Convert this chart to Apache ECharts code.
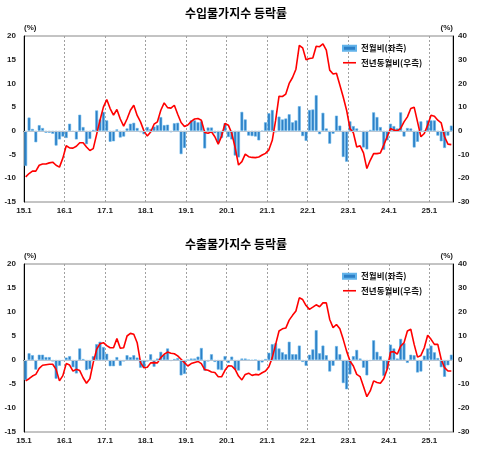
<!DOCTYPE html>
<html>
<head>
<meta charset="utf-8">
<script src="https://cdn.jsdelivr.net/npm/echarts@6.0.0/dist/echarts.min.js"></script>
<style>
html,body{margin:0;padding:0;background:#fff;}
#chart{width:479px;height:453px;}
</style>
</head>
<body>
<div id="chart"></div>
<script>
// ---- data ----
var startYear = 15, endYear = 25, lastMonth = 7;
var categories = [];
for (var y = startYear; y <= endYear; y++) {
  for (var m = 1; m <= 12; m++) {
    if (y === endYear && m > lastMonth) break;
    categories.push(y + '.' + m);
  }
}
var titles = ['수입물가지수 등락률', '수출물가지수 등락률'];
var seriesNames = ['전월비(좌측)', '전년동월비(우측)'];
var leftTicks = {min: -15, max: 20, interval: 5};
var rightTicks = {min: -30, max: 40, interval: 10};

// import price index: month-on-month (left axis)
var importMoM = [
  -7.4, 2.8, 0.4, -2.4, 1.2, 0.6, -0.4, -0.4, -0.6, -3.1, -1.8, -1.2,
  -1.5, 1.5, -0.2, -1.8, 3.4, 0.8, -2.8, -1.7, 0.2, 4.3, 2.4, 4.0,
  2.2, -2.3, -2.2, 0.3, -1.4, -1.2, 0.5, 1.5, 1.7, 0.6, -0.3, -0.7,
  0.8, 0.4, 0.9, 1.2, 2.9, 1.2, 1.3, -0.3, 1.6, 1.7, -4.9, -3.6,
  -0.2, 2.2, 2.2, 1.8, 2.0, -3.7, 0.7, 0.7, -0.5, -2.5, -1.5, 1.6,
  -1.3, -1.8, -5.2, -5.6, 4.0, 2.4, -1.0, -1.1, -1.2, -2.0, -0.1, 1.8,
  3.7, 4.4, -0.3, 3.0, 2.4, 2.6, 3.5, 1.8, 2.2, 5.2, -1.1, -2.1,
  4.4, 4.5, 7.5, -0.7, 3.8, 0.5, -2.7, -0.6, 3.2, 1.1, -5.5, -6.5,
  2.0, 1.0, 0.5, -0.2, -3.5, -3.9, 0.2, 3.9, 2.9, 0.8, -4.0, -2.0,
  1.5, 1.0, 0.5, 3.9, -1.2, 0.6, 0.5, -3.5, -2.3, 2.0, -0.1, 2.2,
  2.2, 2.2, -1.0, -2.2, -3.6, -1.0, 1.1
];
// import price index: year-on-year (right axis)
var importYoY = [
  -19.4, -18.0, -17.0, -17.0, -14.5, -14.0, -14.0, -13.5, -13.2, -14.5, -15.3, -11.5,
  -6.3, -7.2, -7.3, -6.5, -5.0, -5.0, -6.8, -8.3, -7.5, -1.5, 4.5, 10.0,
  13.2, 9.4, 6.6, 9.0, 5.0, 2.0, 5.0, 8.7, 10.8, 6.5, 3.8, 0.0,
  -2.2, -0.5, 2.8, 3.8, 8.7, 11.8, 9.8, 9.6, 10.8, 7.0, 3.5, 1.8,
  2.5, 4.0, 5.0, 5.2, 4.5, -0.7, -1.0, -0.4, -2.5, -5.6, -2.2, 3.1,
  2.4, -1.0, -7.0, -14.4, -13.0, -9.8, -10.9, -11.2, -11.3, -11.0, -10.2, -9.5,
  -8.0, -4.0, 4.5, 14.6, 14.5, 15.5, 20.0, 22.5, 26.0, 36.0, 35.0, 30.0,
  30.5, 30.7, 35.7, 35.5, 36.7, 34.0, 25.6, 24.0, 24.3, 19.3, 14.3, 8.7,
  1.0, -0.8, -6.8, -6.3, -9.3, -15.9, -12.4, -9.6, -9.6, -9.3, -6.0, -2.5,
  1.0, 0.3, 0.0, 1.0, 3.8, 5.9, 9.4, 10.0, 3.8, -2.5, -1.1, 2.4,
  6.6, 6.2, 4.5, 3.4, -2.5, -5.6, -5.8
];
// export price index: month-on-month (left axis)
var exportMoM = [
  -4.2, 1.4, 1.0, -2.0, 1.1, 1.1, 0.6, 0.6, -0.3, -3.9, -1.2, -0.2,
  0.5, 0.8, -1.5, -2.8, 2.4, 0.2, -2.1, -1.9, 0.8, 3.3, 3.8, 2.7,
  1.3, -1.3, -1.3, 0.6, -1.2, -0.3, 1.0, 0.6, 1.0, 0.5, -1.6, -1.6,
  -0.3, 1.2, -1.4, 0.3, 1.7, 1.1, 2.4, -0.2, 0.2, 0.4, -3.2, -2.9,
  0.0, 0.3, 0.3, 0.7, 2.5, -2.2, -0.3, 1.2, -0.4, -2.0, -2.1, 0.8,
  -0.6, 0.7, -2.0, -2.2, 0.3, 0.3, 0.0, -0.1, 0.0, -2.2, -0.5, 0.2,
  1.5, 3.3, 3.5, 2.4, 1.6, 1.2, 3.8, 1.2, 1.2, 3.0, -0.4, -1.2,
  1.1, 2.2, 6.2, 1.4, 3.0, 1.0, -2.4, -1.2, 2.9, 1.2, -4.8, -6.1,
  -3.0, 0.8, 2.1, 0.3, -1.6, -3.2, -0.2, 4.1, 1.7, 0.8, -3.3, -1.9,
  3.2, 2.4, 0.3, 4.4, 3.5, -0.6, 1.1, 1.0, -2.6, -2.4, 0.9, 2.4,
  3.0, 1.6, 0.4, -1.5, -3.5, -1.1, 1.1
];
// export price index: year-on-year (right axis)
var exportYoY = [
  -8.7, -7.8, -6.7, -6.0, -3.5, -2.2, -2.0, -1.8, -1.8, -3.9, -8.7, -6.5,
  -1.5, -2.1, -4.6, -3.9, -4.4, -7.4, -9.7, -7.8, -1.1, 4.4, 6.8, 7.2,
  6.0, 5.1, 5.1, 8.9, 4.9, 5.1, 10.0, 11.1, 10.7, 7.2, -1.1, -3.2,
  -3.0, -1.2, -1.1, -1.2, 1.0, 2.4, 3.3, 2.8, 2.6, 1.7, 0.3, -1.1,
  -2.5, -1.5, -1.0, -0.6, -1.5, -4.0, -4.3, -5.0, -5.2, -7.0, -7.0, -4.3,
  -2.4, -2.5, -3.9, -6.7, -8.3, -6.0, -5.5, -6.4, -6.0, -6.2, -5.3, -4.6,
  -2.8, 1.0, 6.5, 12.1, 13.0, 13.3, 16.6, 18.6, 20.4, 25.9, 25.2, 22.7,
  21.1, 22.0, 23.0, 22.2, 23.8, 23.8, 16.9, 13.5, 14.8, 13.0, 8.6, 3.7,
  -0.4, -2.5, -6.0, -6.9, -11.0, -15.3, -12.9, -8.7, -9.4, -9.7, -7.8, -3.9,
  3.3, 3.5, 2.4, 5.8, 7.2, 12.1, 12.8, 6.5, 1.2, 1.9, 5.1, 10.3,
  8.6, 6.5, 6.5, 0.3, -3.2, -4.6, -4.6
];

// ---- chart ----
var FONT = "'Liberation Sans', 'Noto Sans CJK KR', sans-serif";
var KFONT = "'Noto Sans CJK KR', 'Liberation Sans', sans-serif";
var grids = [
  {left: 24, right: 26, top: 36, height: 166},
  {left: 24, right: 26, top: 264, height: 168}
];
var chart = echarts.init(document.getElementById('chart'), null, {renderer: 'canvas'});

function xAxisFor(idx) {
  return {
    type: 'category', gridIndex: idx, data: categories, boundaryGap: true,
    axisLine: {lineStyle: {color: '#000', width: 1}},
    axisTick: {show: false},
    axisLabel: {interval: 11, fontSize: 8, fontWeight: 'bold', color: '#222',
      fontFamily: FONT, margin: 5, padding: [0, 3.4, 0, 0]},
    splitLine: {show: true, interval: 11,
      lineStyle: {color: '#a0a0a0', type: [2, 2], width: 1}}
  };
}
function yAxisFor(idx, side, t) {
  return {
    type: 'value', gridIndex: idx, position: side,
    min: t.min, max: t.max, interval: t.interval,
    name: '(%)', nameLocation: 'end', nameGap: 4,
    nameTextStyle: {fontSize: 8, fontWeight: 'bold', color: '#222', fontFamily: FONT,
      align: side === 'left' ? 'left' : 'right'},
    axisLine: {show: true, lineStyle: {color: '#000', width: 1}},
    axisTick: {show: false},
    splitLine: {show: false},
    axisLabel: {fontSize: 8, fontWeight: 'bold', color: '#222', fontFamily: FONT,
      margin: side === 'left' ? 8 : 5}
  };
}
function barSeries(idx, data) {
  return {
    name: seriesNames[0], type: 'bar', xAxisIndex: idx, yAxisIndex: idx * 2,
    data: data, barCategoryGap: '15%',
    itemStyle: {color: '#2c7fc6', borderColor: '#62b3ea', borderWidth: 0.6},
    markLine: {silent: true, symbol: 'none', label: {show: false},
      lineStyle: {color: '#b9c6d3', width: 1, type: 'solid'},
      data: [{yAxis: 0}]},
    z: 2
  };
}
function lineSeries(idx, data) {
  return {
    name: seriesNames[1], type: 'line', xAxisIndex: idx, yAxisIndex: idx * 2 + 1,
    data: data, symbol: 'none', showSymbol: false,
    lineStyle: {color: '#ff0000', width: 1.6}, itemStyle: {color: '#ff0000'},
    z: 4
  };
}
function legendFor(top) {
  return {
    orient: 'vertical', left: 337, top: top, itemWidth: 13, itemHeight: 5, itemGap: 6,
    textStyle: {fontSize: 8.5, fontWeight: 'bold', color: '#111', fontFamily: KFONT},
    data: [
      {name: seriesNames[0], icon: 'rect'},
      {name: seriesNames[1], itemStyle: {opacity: 0}, lineStyle: {color: '#ff0000', width: 1.6}}
    ],
    selectedMode: false
  };
}

chart.setOption({
  animation: false,
  backgroundColor: '#fff',
  title: [
    {text: titles[0], left: 180, top: 2,
      textStyle: {fontSize: 12, fontWeight: 'bold', color: '#000', fontFamily: KFONT}},
    {text: titles[1], left: 180, top: 233,
      textStyle: {fontSize: 12, fontWeight: 'bold', color: '#000', fontFamily: KFONT}}
  ],
  legend: [legendFor(39), legendFor(267)],
  grid: grids.map(function (g) {
    return Object.assign({show: true, borderColor: '#888', borderWidth: 1, backgroundColor: 'transparent'}, g);
  }),
  xAxis: [xAxisFor(0), xAxisFor(1)],
  yAxis: [yAxisFor(0, 'left', leftTicks), yAxisFor(0, 'right', rightTicks),
          yAxisFor(1, 'left', leftTicks), yAxisFor(1, 'right', rightTicks)],
  series: [barSeries(0, importMoM), lineSeries(0, importYoY),
           barSeries(1, exportMoM), lineSeries(1, exportYoY)]
});
</script>
</body>
</html>
